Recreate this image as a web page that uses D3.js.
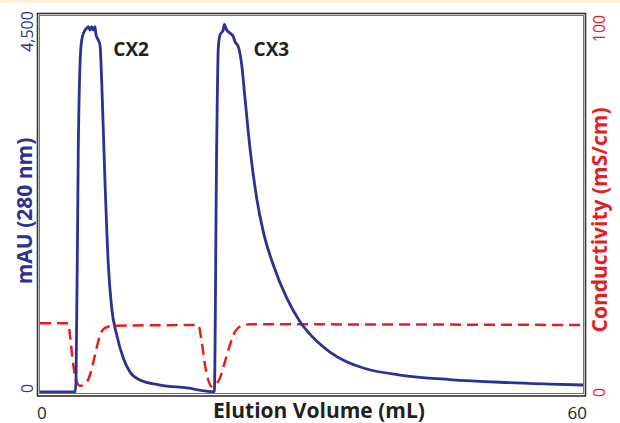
<!DOCTYPE html>
<html>
<head>
<meta charset="utf-8">
<script src="https://cdn.jsdelivr.net/npm/d3@7"></script>
<style>
  html, body { margin: 0; padding: 0; background: #fff; }
  svg { display: block; }
</style>
</head>
<body>
<svg id="chart" width="620" height="423"></svg>
<script>
// ---- Data ----
// UV absorbance trace (elution volume mL, mAU)
const uvVolume = [0, 3.87, 3.98, 4.23, 4.42, 4.61, 4.97, 5.16, 5.34, 5.52, 5.71, 5.89, 6.08, 6.19, 6.44, 6.63, 6.82, 7.18, 7.55, 7.92, 8.48, 9.20, 9.94, 11.05, 13.26, 16.21, 19.15,
  19.26, 19.52, 19.70, 19.89, 20.25, 20.36, 20.63, 20.99, 21.36, 21.55, 21.91, 22.29, 22.65, 23.20, 23.94, 24.67, 25.78, 27.26, 28.73, 30.57, 32.04, 33.70, 35.91, 39.78, 45.30, 50.83, 56.35, 60];
const uvMAU = [0, 0, 124, 3033, 4065, 4376, 4500, 4521, 4541, 4500, 4541, 4500, 4541, 4438, 4376, 4314, 3857, 2614, 1579, 1044, 709, 423, 249, 149, 87, 50, 4,
  4, 3033, 4276, 4438, 4500, 4571, 4500, 4463, 4417, 4355, 4293, 4065, 3655, 3033, 2412, 1993, 1579, 1169, 874, 634, 497, 385, 292, 211, 155, 121, 99, 87];
// Conductivity trace (elution volume mL, mS/cm)
const condVolume = [0, 3.13, 3.31, 3.68, 4.06, 4.42, 4.97, 5.52, 6.08, 6.63, 7.18, 8.10, 17.49, 17.87, 18.23, 18.60, 18.97, 19.34, 19.89, 20.44, 20.99, 21.55, 22.29, 23.2, 60];
const condValue = [19.0, 19.0, 15.7, 7.5, 2.8, 1.7, 2.1, 4.7, 10.2, 15.7, 17.7, 18.3, 18.5, 13.9, 7.5, 3.3, 1.5, 1.9, 3.9, 8.4, 13.0, 16.7, 18.3, 18.7, 18.5];
// Peak labels
const peakNames = ["CX2", "CX3"];
const peakVolumes = [8.1, 23.6];
// Tick labels
const xTicks = [0, 60];
const yLeftTicks = [0, 4500];
const yRightTicks = [0, 100];

// ---- Layout ----
const svg = d3.select("#chart");
const BLUE = "#2e3092", RED = "#e31e24", INK = "#231f20";
const FONT = "'Open Sans', 'DejaVu Sans', sans-serif";

const x = d3.scaleLinear().domain([0, 60]).range([40, 583]);
const yL = d3.scaleLinear().domain([0, 4500]).range([392, 30]);
const yR = d3.scaleLinear().domain([0, 100]).range([392, 30]);

// top cream strip
svg.append("rect").attr("x", 0).attr("y", 0).attr("width", 620).attr("height", 3).attr("fill", "#fdf2d8");

// frame
svg.append("rect").attr("x", 37.5).attr("y", 13.5).attr("width", 548).attr("height", 382.5)
  .attr("fill", "none").attr("stroke", "#333").attr("stroke-width", 1.6);
svg.append("rect").attr("x", 39.5).attr("y", 15.5).attr("width", 544).attr("height", 378)
  .attr("fill", "none").attr("stroke", "#777").attr("stroke-width", 1);

svg.append("clipPath").attr("id", "clip").append("rect")
  .attr("x", 40).attr("y", 16).attr("width", 543).attr("height", 377);

const plot = svg.append("g").attr("clip-path", "url(#clip)");

// conductivity (dashed red)
const condLine = d3.line().x((d, i) => x(condVolume[i])).y(d => yR(d)).curve(d3.curveMonotoneX);
plot.append("path").datum(condValue).attr("d", condLine)
  .attr("fill", "none").attr("stroke", RED).attr("stroke-width", 2.5)
  .attr("stroke-dasharray", "11,6");

// UV (solid blue)
const uvLine = d3.line().x((d, i) => x(uvVolume[i])).y(d => yL(d)).curve(d3.curveMonotoneX);
plot.append("path").datum(uvMAU).attr("d", uvLine)
  .attr("fill", "none").attr("stroke", BLUE).attr("stroke-width", 2.8)
  .attr("stroke-linejoin", "round");

// peak labels
svg.selectAll(".peak").data(peakNames).enter().append("text")
  .attr("x", (d, i) => x(peakVolumes[i])).attr("y", 56)
  .attr("font-family", FONT).attr("font-weight", 700).attr("font-size", 19)
  .attr("fill", INK).text(d => d);

// ---- Axes ----
// bottom
const gx = svg.append("g").attr("transform", "translate(0,396)")
  .call(d3.axisBottom(x).tickValues(xTicks).tickSize(0).tickFormat(d3.format("d")));
gx.select(".domain").remove();
gx.selectAll("text").attr("font-family", FONT).attr("font-size", 17).attr("fill", INK)
  .attr("y", 23).attr("dy", 0)
  .attr("text-anchor", (d, i) => i === 0 ? "start" : "end")
  .attr("dx", (d, i) => i === 0 ? -3.5 : 3.5);

// left
const gl = svg.append("g").attr("transform", "translate(37,0)")
  .call(d3.axisLeft(yL).tickValues(yLeftTicks).tickSize(0).tickFormat(d3.format(",")));
gl.select(".domain").remove();
gl.selectAll("text").attr("font-family", FONT).attr("font-size", 16).attr("fill", BLUE)
  .attr("transform", "rotate(-90)").attr("x", d => d === 0 ? 4 : -1).attr("y", -4).attr("dy", 0)
  .attr("text-anchor", "middle");

// right
const gr = svg.append("g").attr("transform", "translate(585,0)")
  .call(d3.axisRight(yR).tickValues(yRightTicks).tickSize(0).tickFormat(d3.format("d")));
gr.select(".domain").remove();
gr.selectAll("text").attr("font-family", FONT).attr("font-size", 16).attr("fill", RED)
  .attr("transform", "rotate(-90)").attr("x", d => d === 0 ? 0 : 2).attr("y", 20).attr("dy", 0)
  .attr("text-anchor", "middle");

// axis titles
svg.append("text").attr("x", 319).attr("y", 418).attr("text-anchor", "middle")
  .attr("font-family", FONT).attr("font-weight", 700).attr("font-size", 21).attr("fill", INK)
  .text("Elution Volume (mL)");
svg.append("text").attr("transform", "translate(32,211) rotate(-90)").attr("text-anchor", "middle")
  .attr("font-family", FONT).attr("font-weight", 700).attr("font-size", 21).attr("fill", BLUE)
  .text("mAU (280 nm)");
svg.append("text").attr("transform", "translate(607,220) rotate(-90)").attr("text-anchor", "middle")
  .attr("font-family", FONT).attr("font-weight", 700).attr("font-size", 21).attr("fill", RED)
  .text("Conductivity (mS/cm)");
</script>
</body>
</html>
